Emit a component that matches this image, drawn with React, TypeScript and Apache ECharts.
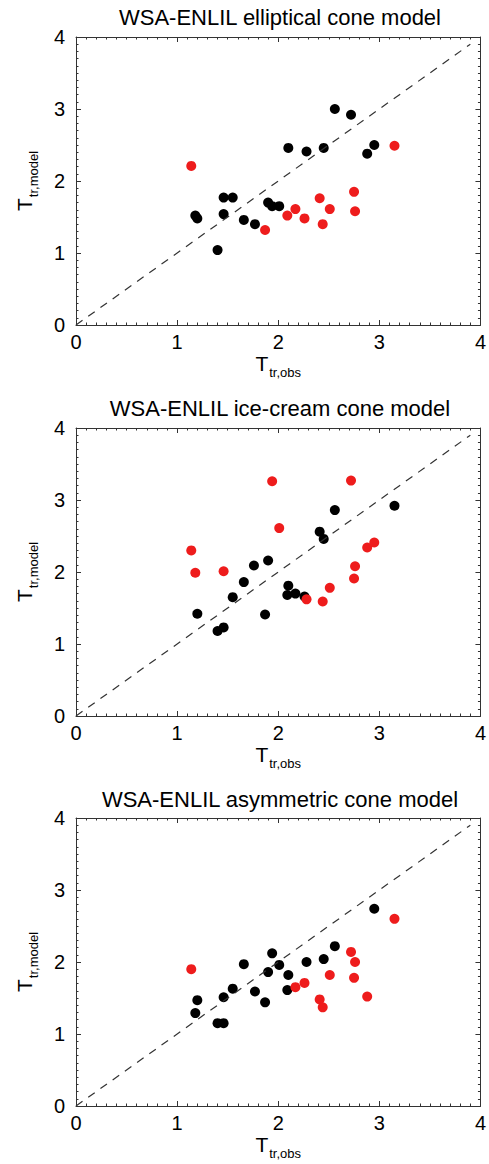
import React, { useEffect, useRef } from "react";
import * as echarts from "echarts";

const titles = [
  "WSA-ENLIL elliptical cone model",
  "WSA-ENLIL ice-cream cone model",
  "WSA-ENLIL asymmetric cone model",
];

const diagonal = [
  [0, 0],
  [3.9, 3.9],
];

const ellipticalRed = [
  [1.14, 2.21], [1.87, 1.32], [2.09, 1.52], [2.17, 1.61], [2.26, 1.48],
  [2.41, 1.76], [2.44, 1.4], [2.51, 1.61], [2.75, 1.85], [2.76, 1.58], [3.15, 2.49],
];
const ellipticalBlack = [
  [1.18, 1.52], [1.2, 1.48], [1.4, 1.04], [1.46, 1.77], [1.46, 1.54], [1.55, 1.77],
  [1.66, 1.46], [1.77, 1.4], [1.9, 1.7], [1.94, 1.65], [2.01, 1.65], [2.1, 2.46],
  [2.28, 2.41], [2.45, 2.46], [2.56, 3.0], [2.72, 2.92], [2.88, 2.38], [2.95, 2.5],
];

const iceCreamRed = [
  [1.14, 2.3], [1.18, 1.99], [1.46, 2.01], [1.94, 3.26], [2.01, 2.61], [2.28, 1.62],
  [2.44, 1.59], [2.51, 1.78], [2.72, 3.27], [2.75, 1.91], [2.76, 2.08], [2.88, 2.34], [2.95, 2.41],
];
const iceCreamBlack = [
  [1.2, 1.42], [1.4, 1.18], [1.46, 1.23], [1.55, 1.65], [1.66, 1.86], [1.76, 2.09],
  [1.9, 2.16], [1.87, 1.41], [2.09, 1.68], [2.1, 1.81], [2.17, 1.7], [2.26, 1.66],
  [2.41, 2.56], [2.45, 2.46], [2.56, 2.86], [3.15, 2.92],
];

const asymmetricRed = [
  [1.14, 1.9], [2.17, 1.65], [2.26, 1.71], [2.41, 1.48], [2.44, 1.37], [2.51, 1.82],
  [2.72, 2.14], [2.75, 1.78], [2.76, 2.0], [2.88, 1.52], [3.15, 2.6],
];
const asymmetricBlack = [
  [1.18, 1.29], [1.2, 1.47], [1.4, 1.15], [1.46, 1.15], [1.46, 1.51], [1.55, 1.63],
  [1.66, 1.97], [1.77, 1.59], [1.87, 1.44], [1.9, 1.86], [1.94, 2.12], [2.01, 1.96],
  [2.1, 1.82], [2.09, 1.61], [2.28, 2.0], [2.45, 2.04], [2.56, 2.22], [2.95, 2.74],
];

const panels = [
  { red: ellipticalRed, black: ellipticalBlack },
  { red: iceCreamRed, black: iceCreamBlack },
  { red: asymmetricRed, black: asymmetricBlack },
];

const FONT = "'Liberation Sans', Arial, Helvetica, sans-serif";
const gridTops = [37, 428, 818];
const gridHeight = 288;
const gridLeft = 76;
const gridWidth = 408;
const titleY = [17, 408, 799];

export default function App() {
  const ref = useRef<HTMLDivElement>(null);

  useEffect(() => {
    if (!ref.current) return;
    document.body.style.margin = "0";
    const chart = echarts.init(ref.current, null, { renderer: "svg" });

    const frameColor = "#333";
    const nameRich = {
      t: { fontSize: 21, color: "#000", fontFamily: FONT, verticalAlign: "top", lineHeight: 22 },
      s: { fontSize: 13, color: "#000", fontFamily: FONT, verticalAlign: "top", lineHeight: 13, padding: [13, 0, 0, 1] },
    };
    const baseAxis = (pos: string, gridIndex: number, showLabel: boolean, isX: boolean) => ({
      type: "value",
      gridIndex,
      position: pos,
      min: 0,
      max: 4,
      interval: 1,
      axisLine: { show: true, onZero: false, lineStyle: { color: frameColor, width: 1 } },
      axisTick: { show: true, inside: true, length: 5, lineStyle: { color: frameColor } },
      minorTick: { show: true, splitNumber: 10, length: 2.5, lineStyle: { color: frameColor } },
      splitLine: { show: false },
      minorSplitLine: { show: false },
      axisLabel: showLabel
        ? { show: true, fontSize: 20, color: "#000", fontFamily: FONT, margin: isX ? 7 : 11 }
        : { show: false },
      ...(showLabel
        ? isX
          ? {
              name: "{t|T}{s|tr,obs}",
              nameLocation: "middle",
              nameGap: 17,
              nameTextStyle: { fontFamily: FONT, rich: nameRich },
            }
          : {
              name: "{t|T}{s|tr,model}",
              nameLocation: "middle",
              nameGap: 40,
              nameTextStyle: { fontFamily: FONT, rich: nameRich },
            }
        : {}),
    });

    const grid: any[] = [];
    const xAxis: any[] = [];
    const yAxis: any[] = [];
    const series: any[] = [];
    const graphic: any[] = [];

    panels.forEach((p, i) => {
      grid.push({ left: gridLeft, top: gridTops[i], width: gridWidth, height: gridHeight });
      xAxis.push(baseAxis("bottom", i, true, true));
      xAxis.push(baseAxis("top", i, false, true));
      yAxis.push(baseAxis("left", i, true, false));
      yAxis.push(baseAxis("right", i, false, false));
      series.push({
        type: "line",
        xAxisIndex: i * 2,
        yAxisIndex: i * 2,
        data: diagonal,
        symbol: "none",
        silent: true,
        lineStyle: { color: "#333", width: 1.2, type: [8, 7] },
      });
      series.push({
        type: "scatter",
        xAxisIndex: i * 2,
        yAxisIndex: i * 2,
        data: p.black,
        symbolSize: 10,
        itemStyle: { color: "#000", opacity: 1 },
      });
      series.push({
        type: "scatter",
        xAxisIndex: i * 2,
        yAxisIndex: i * 2,
        data: p.red,
        symbolSize: 10,
        itemStyle: { color: "#ee1c1c", opacity: 1 },
      });
      graphic.push({
        type: "text",
        x: gridLeft + gridWidth / 2,
        y: titleY[i],
        style: {
          text: titles[i],
          textAlign: "center",
          textVerticalAlign: "middle",
          fontSize: 22,
          fontFamily: FONT,
          fill: "#000",
        },
      });
    });

    chart.setOption({
      animation: false,
      backgroundColor: "#fff",
      grid,
      xAxis,
      yAxis,
      series,
      graphic,
    });

    return () => chart.dispose();
  }, []);

  return <div ref={ref} style={{ width: 489, height: 1164 }} />;
}
